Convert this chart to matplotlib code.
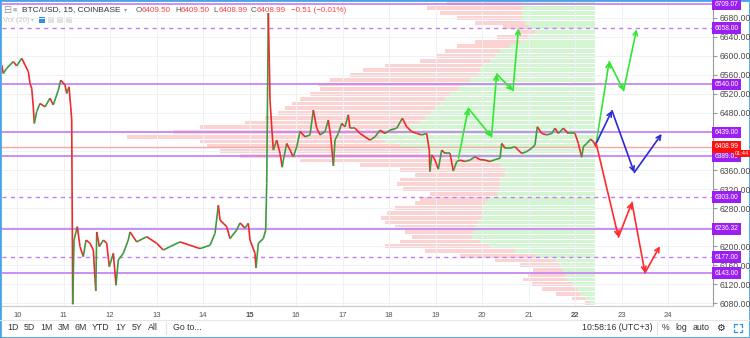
import matplotlib
matplotlib.use("Agg")
import matplotlib.pyplot as plt
import matplotlib.transforms as mtransforms
from matplotlib.collections import LineCollection
from matplotlib.patches import Rectangle
from matplotlib.lines import Line2D

plt.rcParams['font.family'] = ['Liberation Sans', 'DejaVu Sans']

# BTC/USD 15m path (day of month, price)
days = [9.667, 9.701, 9.774, 9.916, 9.989, 10.097, 10.168, 10.239, 10.275, 10.312,
        10.346, 10.368, 10.419, 10.490, 10.598, 10.705, 10.776, 10.884, 10.935, 11.028,
        11.065, 11.114, 11.151, 11.172, 11.194, 11.222, 11.292, 11.351, 11.422, 11.480,
        11.566, 11.637, 11.690, 11.710, 11.766, 11.852, 11.925, 11.981, 12.067, 12.125,
        12.174, 12.282, 12.389, 12.426, 12.570, 12.785, 13.000, 13.142, 13.286, 13.501,
        13.716, 13.931, 14.146, 14.254, 14.325, 14.361, 14.505, 14.576, 14.720, 14.791,
        14.899, 14.970, 15.006, 15.114, 15.135, 15.185, 15.292, 15.344, 15.366, 15.400,
        15.437, 15.473, 15.508, 15.581, 15.652, 15.700, 15.723, 15.796, 15.867, 15.938,
        16.011, 16.082, 16.189, 16.297, 16.368, 16.441, 16.512, 16.619, 16.690, 16.742,
        16.800, 16.834, 16.905, 16.978, 17.049, 17.120, 17.157, 17.264, 17.372, 17.479,
        17.587, 17.695, 17.802, 17.910, 18.017, 18.161, 18.282, 18.376, 18.484, 18.591,
        18.699, 18.806, 18.862, 18.875, 18.914, 18.985, 19.056, 19.129, 19.200, 19.308,
        19.378, 19.452, 19.522, 19.630, 19.738, 19.845, 19.952, 20.060, 20.167, 20.275,
        20.383, 20.419, 20.490, 20.598, 20.705, 20.776, 20.849, 20.957, 21.065, 21.135,
        21.185, 21.280, 21.387, 21.495, 21.566, 21.637, 21.744, 21.852, 21.996, 22.067,
        22.140, 22.174, 22.247, 22.333, 22.389, 22.447]
prices = [6581, 6563, 6574, 6588, 6579, 6595, 6581, 6567, 6542, 6532,
          6493, 6458, 6483, 6500, 6493, 6511, 6497, 6528, 6549, 6539,
          6521, 6535, 6493, 6465, 6078, 6213, 6241, 6199, 6178, 6213,
          6206, 6192, 6106, 6230, 6199, 6213, 6206, 6157, 6185, 6118,
          6171, 6185, 6213, 6230, 6209, 6220, 6206, 6192, 6199, 6209,
          6202, 6195, 6202, 6227, 6286, 6255, 6241, 6216, 6234, 6249,
          6238, 6248, 6213, 6185, 6154, 6206, 6216, 6234, 6332, 6690,
          6507, 6451, 6402, 6423, 6395, 6366, 6381, 6416, 6402, 6388,
          6409, 6441, 6430, 6434, 6486, 6448, 6434, 6441, 6465, 6430,
          6369, 6423, 6437, 6458, 6451, 6476, 6448, 6448, 6437, 6430,
          6423, 6430, 6444, 6437, 6444, 6448, 6469, 6451, 6441, 6437,
          6434, 6437, 6402, 6357, 6392, 6381, 6362, 6402, 6395, 6395,
          6358, 6378, 6381, 6378, 6381, 6388, 6382, 6381, 6378, 6382,
          6385, 6416, 6406, 6406, 6409, 6402, 6395, 6399, 6406, 6413,
          6451, 6437, 6434, 6437, 6448, 6437, 6448, 6437, 6437, 6416,
          6387, 6409, 6416, 6425, 6420, 6409]

# volume profile rows (price level, up volume, down volume)
profile_levels = [6710, 6700, 6690, 6680, 6670, 6660, 6650, 6640, 6630, 6620,
                  6610, 6600, 6590, 6580, 6570, 6560, 6550, 6540, 6530, 6520,
                  6510, 6500, 6490, 6480, 6470, 6460, 6450, 6440, 6430, 6420,
                  6410, 6400, 6390, 6380, 6370, 6360, 6350, 6340, 6330, 6320,
                  6310, 6300, 6290, 6280, 6270, 6260, 6250, 6240, 6230, 6220,
                  6210, 6200, 6190, 6180, 6170, 6160, 6150, 6140, 6130, 6120,
                  6110, 6100, 6090, 6080]
up_vol = [73, 73, 73, 73, 70, 65, 60, 67, 75, 85,
          95, 100, 105, 112, 115, 117, 125, 133, 137, 145,
          150, 155, 160, 165, 170, 175, 185, 200, 215, 210,
          195, 175, 150, 115, 95, 90, 90, 95, 95, 95,
          98, 107, 110, 112, 113, 113, 117, 120, 122, 123,
          115, 105, 80, 60, 40, 35, 33, 30, 28, 23,
          18, 15, 10, 5]
down_vol = [75, 95, 82, 65, 50, 27, 18, 31, 45, 53,
            55, 58, 70, 98, 117, 128, 140, 144, 138, 140,
            145, 148, 150, 152, 160, 175, 210, 222, 253, 185,
            193, 200, 205, 180, 140, 105, 90, 100, 103, 97,
            67, 68, 70, 88, 95, 101, 93, 80, 68, 60,
            80, 105, 90, 75, 60, 40, 29, 37, 44, 40,
            35, 24, 13, 5]

solid_levels = [6709.07, 6540.00, 6439.00, 6389.00, 6236.32, 6143.00]
dashed_levels = [6658.00, 6303.00, 6177.00]
last_price = 6408.99

# projection arrows
green_a_days = [19.49, 19.70, 20.20, 20.31, 20.66, 20.78]
green_a_prices = [6385, 6490, 6430, 6562, 6527, 6658]
green_b_days = [22.45, 22.73, 23.04, 23.32]
green_b_prices = [6416, 6588, 6527, 6656]
blue_days = [22.45, 22.79, 23.27, 23.86]
blue_prices = [6416, 6485, 6355, 6436]
red_days = [22.45, 22.93, 23.22, 23.50, 23.82]
red_prices = [6416, 6219, 6292, 6144, 6200]

date_ticks = [10, 11, 12, 13, 14, 15, 16, 17, 18, 19, 20, 21, 22, 23, 24]
price_ticks = [6080, 6120, 6160, 6200, 6240, 6280, 6320, 6360, 6400, 6440,
               6480, 6520, 6560, 6600, 6640, 6680]
# scale labels that sit under a price label box in the screenshot
hidden_ticks = [6240, 6400, 6440]

W, H = 750, 338
fig = plt.figure(figsize=(W / 100, H / 100), dpi=100)
ax = fig.add_axes([2 / W, 1 - 306 / H, 711 / W, 304 / H])

# volume profile on a twin x axis, zero at the right end of the profile
ax2 = ax.twiny()
ax.set_zorder(2)
ax.patch.set_visible(False)
ax2.set_zorder(1)
ax2.barh(profile_levels, up_vol, height=8, color='#d3f5d1', lw=0)
ax2.barh(profile_levels, down_vol, height=8, left=up_vol, color='#fcd3d3', lw=0)
ax2.set_xlim(593, -118)
ax2.set_xticks([])
for s in ax2.spines.values():
    s.set_visible(False)

ax.set_xlim(9.673, 24.963)
ax.set_ylim(6074.3, 6713.3)

# grid
for d in date_ticks:
    ax.axvline(d, color='#eef1f5', lw=0.7, zorder=0.5)
for p in price_ticks:
    ax.axhline(p, color='#eef1f5', lw=0.7, zorder=0.5)

# levels
for lv in solid_levels:
    ax.axhline(lv, color='#c47cf5', lw=1.2, zorder=1.5)
for lv in dashed_levels:
    ax.axhline(lv, color='#c47cf5', lw=1.0, ls=(0, (3, 3)), zorder=1.5)
ax.axhline(last_price, color='#f7a6a6', lw=1.0, zorder=1.5)

# candles as up/down coloured segments
segs = []
cols = []
for i in range(1, len(days)):
    segs.append([(days[i - 1], prices[i - 1]), (days[i], prices[i])])
    cols.append('#3f9a3f' if prices[i] >= prices[i - 1] else '#ee2a2a')
ax.add_collection(LineCollection(segs, colors=cols, linewidths=1.2, zorder=3))


def arrows(xs, ys, c):
    for i in range(1, len(xs)):
        ax.annotate('', xy=(xs[i], ys[i]), xytext=(xs[i - 1], ys[i - 1]),
                    arrowprops=dict(arrowstyle='->', color=c, lw=1.2,
                                    mutation_scale=8, shrinkA=0, shrinkB=0),
                    zorder=4)


arrows(green_a_days, green_a_prices, '#33e633')
arrows(green_b_days, green_b_prices, '#33e633')
arrows(blue_days, blue_prices, '#2a2ad6')
arrows(red_days, red_prices, '#ff2a2a')

# axes styling
for s in ['top', 'left']:
    ax.spines[s].set_visible(False)
ax.spines['right'].set_color('#9a9a9a')
ax.spines['bottom'].set_color('#c8c8c8')
ax.yaxis.tick_right()
ax.set_yticks(price_ticks)
ax.set_yticklabels(['' if p in hidden_ticks else f'{p:.2f}' for p in price_ticks])
ax.tick_params(axis='y', length=3, color='#9a9a9a', labelsize=6.2,
               labelcolor='#4a4a4a', pad=1.5)
ax.set_xticks(date_ticks)
ax.set_xticklabels([str(d) for d in date_ticks])
ax.tick_params(axis='x', length=0, labelsize=5.5, labelcolor='#555555', pad=4)
for lab in ax.get_xticklabels():
    if lab.get_text() in ('15', '22'):
        lab.set_fontweight('bold')

# price labels on the scale
blend = mtransforms.blended_transform_factory(ax.transAxes, ax.transData)
for lv in solid_levels + dashed_levels:
    ax.text(1.002, lv, f'{lv:.2f}', transform=blend, fontsize=4.8, color='white',
            va='center', ha='left', zorder=6, clip_on=False,
            bbox=dict(boxstyle='square,pad=0.35', fc='#9b1ff2', ec='none'))
ax.text(1.002, last_price, f'{last_price:.2f}', transform=blend, fontsize=4.8,
        color='white', va='center', ha='left', zorder=7, clip_on=False,
        bbox=dict(boxstyle='square,pad=0.35', fc='#ff1010', ec='none'))
ax.text(1.031, 6395, '01:44', transform=blend, fontsize=4.0, color='white',
        va='center', ha='left', zorder=8, clip_on=False,
        bbox=dict(boxstyle='square,pad=0.2', fc='#ff1010', ec='none'))


def fx(x):
    return x / W


def fy(y):
    return 1 - y / H


# header
fig.text(fx(3), fy(10), '⊟', fontsize=7, color='#999999', va='center')
fig.text(fx(13), fy(10), '■', fontsize=5, color='#bbbbbb', va='center')
fig.text(fx(22), fy(10), 'BTC/USD, 15, COINBASE', fontsize=6.0, color='#333333', va='center')
fig.text(fx(124), fy(10), '▾', fontsize=4.5, color='#999999', va='center')
ohlc = [(136, 'O', '6409.50'), (175, 'H', '6409.50'), (213, 'L', '6408.99'), (251, 'C', '6408.99')]
for x, k, v in ohlc:
    fig.text(fx(x), fy(10), k, fontsize=5.8, color='#555555', va='center')
    fig.text(fx(x + 6), fy(10), v, fontsize=5.8, color='#ff4040', va='center')
fig.text(fx(291), fy(10), '−0.51 (−0.01%)', fontsize=5.8, color='#ff4040', va='center')
fig.text(fx(3), fy(20), 'Vol (20)', fontsize=5.5, color='#c8c8c8', va='center')
fig.text(fx(31), fy(20), '▾', fontsize=4.0, color='#c8c8c8', va='center')
fig.patches.append(Rectangle((fx(39), fy(23)), 6 / W, 6 / H, transform=fig.transFigure,
                             fc='#2d8fe8', ec='none'))
for x in (48, 57, 66):
    fig.patches.append(Rectangle((fx(x), fy(23)), 6 / W, 6 / H, transform=fig.transFigure,
                                 fc='#e2e2e2', ec='none'))

# bottom toolbar
fig.add_artist(Line2D([0, 1], [fy(320), fy(320)], transform=fig.transFigure,
                      color='#e3e5ea', lw=0.8))
for x, t in [(13, '1D'), (29, '5D'), (46, '1M'), (64, '3M'), (81, '6M'), (101, 'YTD'),
             (121, '1Y'), (137, '5Y'), (153, 'All'), (187, 'Go to...'),
             (617, '10:58:16 (UTC+3)'), (666, '%'), (681, 'log'), (701, 'auto')]:
    fig.text(fx(x), fy(328), t, fontsize=6.3, color='#333333', ha='center', va='center')
fig.text(fx(720), fy(328), '⚙', fontsize=7, color='#222222', ha='center', va='center')
for x in (166, 657):
    fig.add_artist(Line2D([fx(x), fx(x)], [fy(322), fy(334)], transform=fig.transFigure,
                          color='#e0e3eb', lw=0.8))
# expand icon corners
for (x0, y0, dx, dy) in [(734, 324, 1, 1), (742, 324, -1, 1), (734, 332, 1, -1), (742, 332, -1, -1)]:
    fig.add_artist(Line2D([fx(x0), fx(x0), fx(x0 + 2.5 * dx)],
                          [fy(y0 + 2.5 * dy), fy(y0), fy(y0)],
                          transform=fig.transFigure, color='#2d8fe8', lw=0.9))

# widget border
fig.patches.append(Rectangle((0, 0), 1, 1, transform=fig.transFigure, fill=False,
                             ec='#4aa3e8', lw=2))

fig.savefig('out.png', dpi=100)
